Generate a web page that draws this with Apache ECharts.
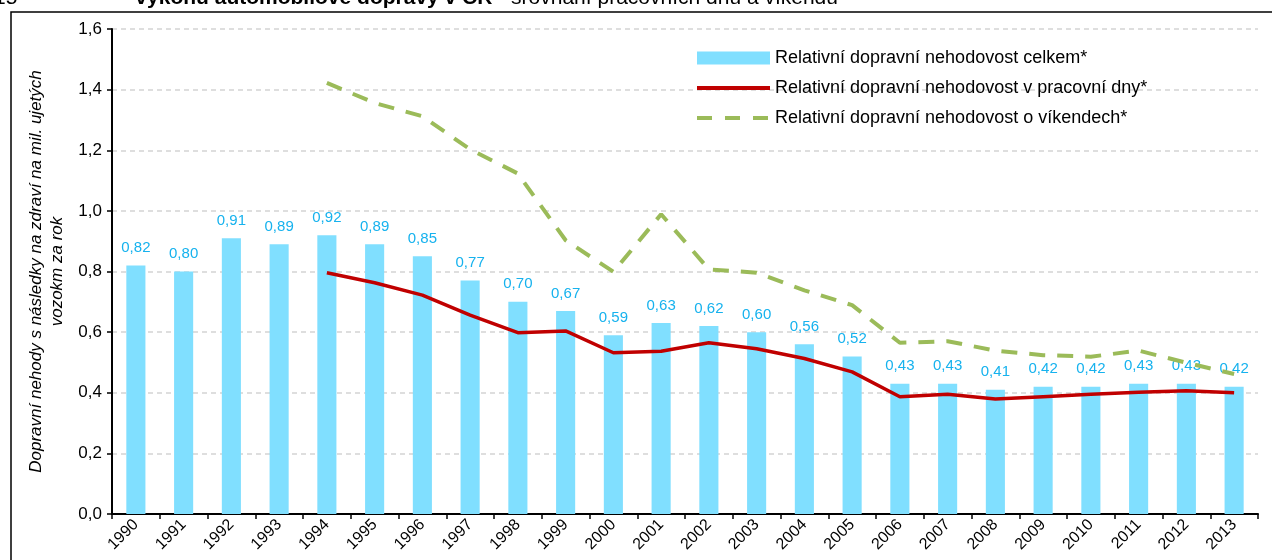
<!DOCTYPE html>
<html>
<head>
<meta charset="utf-8">
<script src="https://cdn.jsdelivr.net/npm/echarts@6/dist/echarts.min.js"></script>
<style>
  html, body { margin: 0; padding: 0; background: #fff; }
  #chart { width: 1272px; height: 560px; }
</style>
</head>
<body>
<div id="chart"></div>
<script>
// roky
var years = ['1990','1991','1992','1993','1994','1995','1996','1997','1998','1999','2000','2001',
             '2002','2003','2004','2005','2006','2007','2008','2009','2010','2011','2012','2013'];
// celkem (sloupce)
var celkem = [0.82,0.80,0.91,0.89,0.92,0.89,0.85,0.77,0.70,0.67,0.59,0.63,
              0.62,0.60,0.56,0.52,0.43,0.43,0.41,0.42,0.42,0.43,0.43,0.42];
// pracovni dny (od 1994)
var pracovni = [null,null,null,null,0.796,0.763,0.722,0.656,0.598,0.604,0.532,0.537,
                0.565,0.545,0.513,0.469,0.387,0.395,0.379,0.387,0.395,0.402,0.407,0.400];
// vikendy (od 1994)
var vikendy = [null,null,null,null,1.422,1.356,1.312,1.203,1.123,0.903,0.799,0.989,
               0.807,0.796,0.738,0.689,0.565,0.570,0.539,0.524,0.519,0.539,0.499,0.462];
var yTicks = [0, 0.2, 0.4, 0.6, 0.8, 1.0, 1.2, 1.4, 1.6];

var names = ['Relativní dopravní nehodovost celkem*',
             'Relativní dopravní nehodovost v pracovní dny*',
             'Relativní dopravní nehodovost o víkendech*'];

function carka(v, d) { return v.toFixed(d).replace('.', ','); }

var chart = echarts.init(document.getElementById('chart'));
var option = {
    backgroundColor: '#fff',
    animation: false,
    textStyle: { fontFamily: 'Liberation Sans, Arial, sans-serif' },
    graphic: [
        { // ramecek
            type: 'rect', silent: true,
            shape: { x: 11, y: 12, width: 1300, height: 600 },
            style: { fill: 'none', stroke: '#000', lineWidth: 1.5 }
        },
        { // useknuty nadpis
            type: 'text', left: -6, top: -12,
            style: {
                text: '{n|15}{p|}{b|výkonu automobilové dopravy v ČR}{r| - srovnání pracovních dnů a víkendů}',
                rich: {
                    n: { font: '21px Liberation Sans', fill: '#000' },
                    p: { width: 118 },
                    b: { font: 'bold 21px Liberation Sans', fill: '#000' },
                    r: { font: '21px Liberation Sans', fill: '#000' }
                }
            }
        }
    ],
    legend: {
        orient: 'vertical',
        left: 690, top: 44,
        itemWidth: 73, itemHeight: 13,
        itemGap: 12,
        textStyle: { fontSize: 18, lineHeight: 18, color: '#000' },
        data: [
            { name: names[0], icon: 'rect' },
            { name: names[1], itemStyle: { opacity: 0 }, lineStyle: { width: 4 } },
            { name: names[2], itemStyle: { opacity: 0 }, lineStyle: { width: 4, type: [15, 13] } }
        ]
    },
    grid: { left: 112, right: 14, top: 29, bottom: 46 },
    xAxis: {
        type: 'category',
        data: years,
        boundaryGap: true,
        axisLine: { lineStyle: { color: '#000', width: 2 } },
        axisTick: { show: true, length: 5, alignWithLabel: false, lineStyle: { color: '#000', width: 1.5 } },
        axisLabel: { rotate: 45, fontSize: 16, color: '#000', margin: 8, interval: 0 }
    },
    yAxis: {
        type: 'value',
        min: 0, max: 1.6, interval: 0.2,
        name: 'Dopravní nehody s následky na zdraví na mil. ujetých\nvozokm za rok',
        nameLocation: 'middle',
        nameRotate: 90,
        nameGap: 42,
        nameTextStyle: { fontSize: 17, fontStyle: 'italic', color: '#000', lineHeight: 21, align: 'center' },
        axisLine: { show: true, lineStyle: { color: '#000', width: 2 } },
        axisTick: { show: true, length: 5, lineStyle: { color: '#000', width: 1.5 } },
        axisLabel: { fontSize: 17, color: '#000', margin: 10,
            formatter: function (v) { return yTicks.indexOf(v) >= 0 ? carka(v, 1) : ''; } },
        splitLine: { lineStyle: { color: '#d4d4d4', type: [5, 4], width: 1.5 } }
    },
    series: [
        {
            name: names[0],
            type: 'bar',
            data: celkem,
            barWidth: '40%',
            itemStyle: { color: '#80dfff' },
            label: {
                show: true, position: 'top', distance: 10,
                fontSize: 15, color: '#16b2ee',
                formatter: function (p) { return carka(p.value, 2); }
            },
            z: 2
        },
        {
            name: names[1],
            type: 'line',
            data: pracovni,
            symbol: 'none',
            lineStyle: { color: '#c00000', width: 3.5 },
            itemStyle: { color: '#c00000' },
            z: 4
        },
        {
            name: names[2],
            type: 'line',
            data: vikendy,
            symbol: 'none',
            lineStyle: { color: '#9bbb59', width: 4, type: [16, 12] },
            itemStyle: { color: '#9bbb59' },
            z: 3
        }
    ]
};
chart.setOption(option);
</script>
</body>
</html>
